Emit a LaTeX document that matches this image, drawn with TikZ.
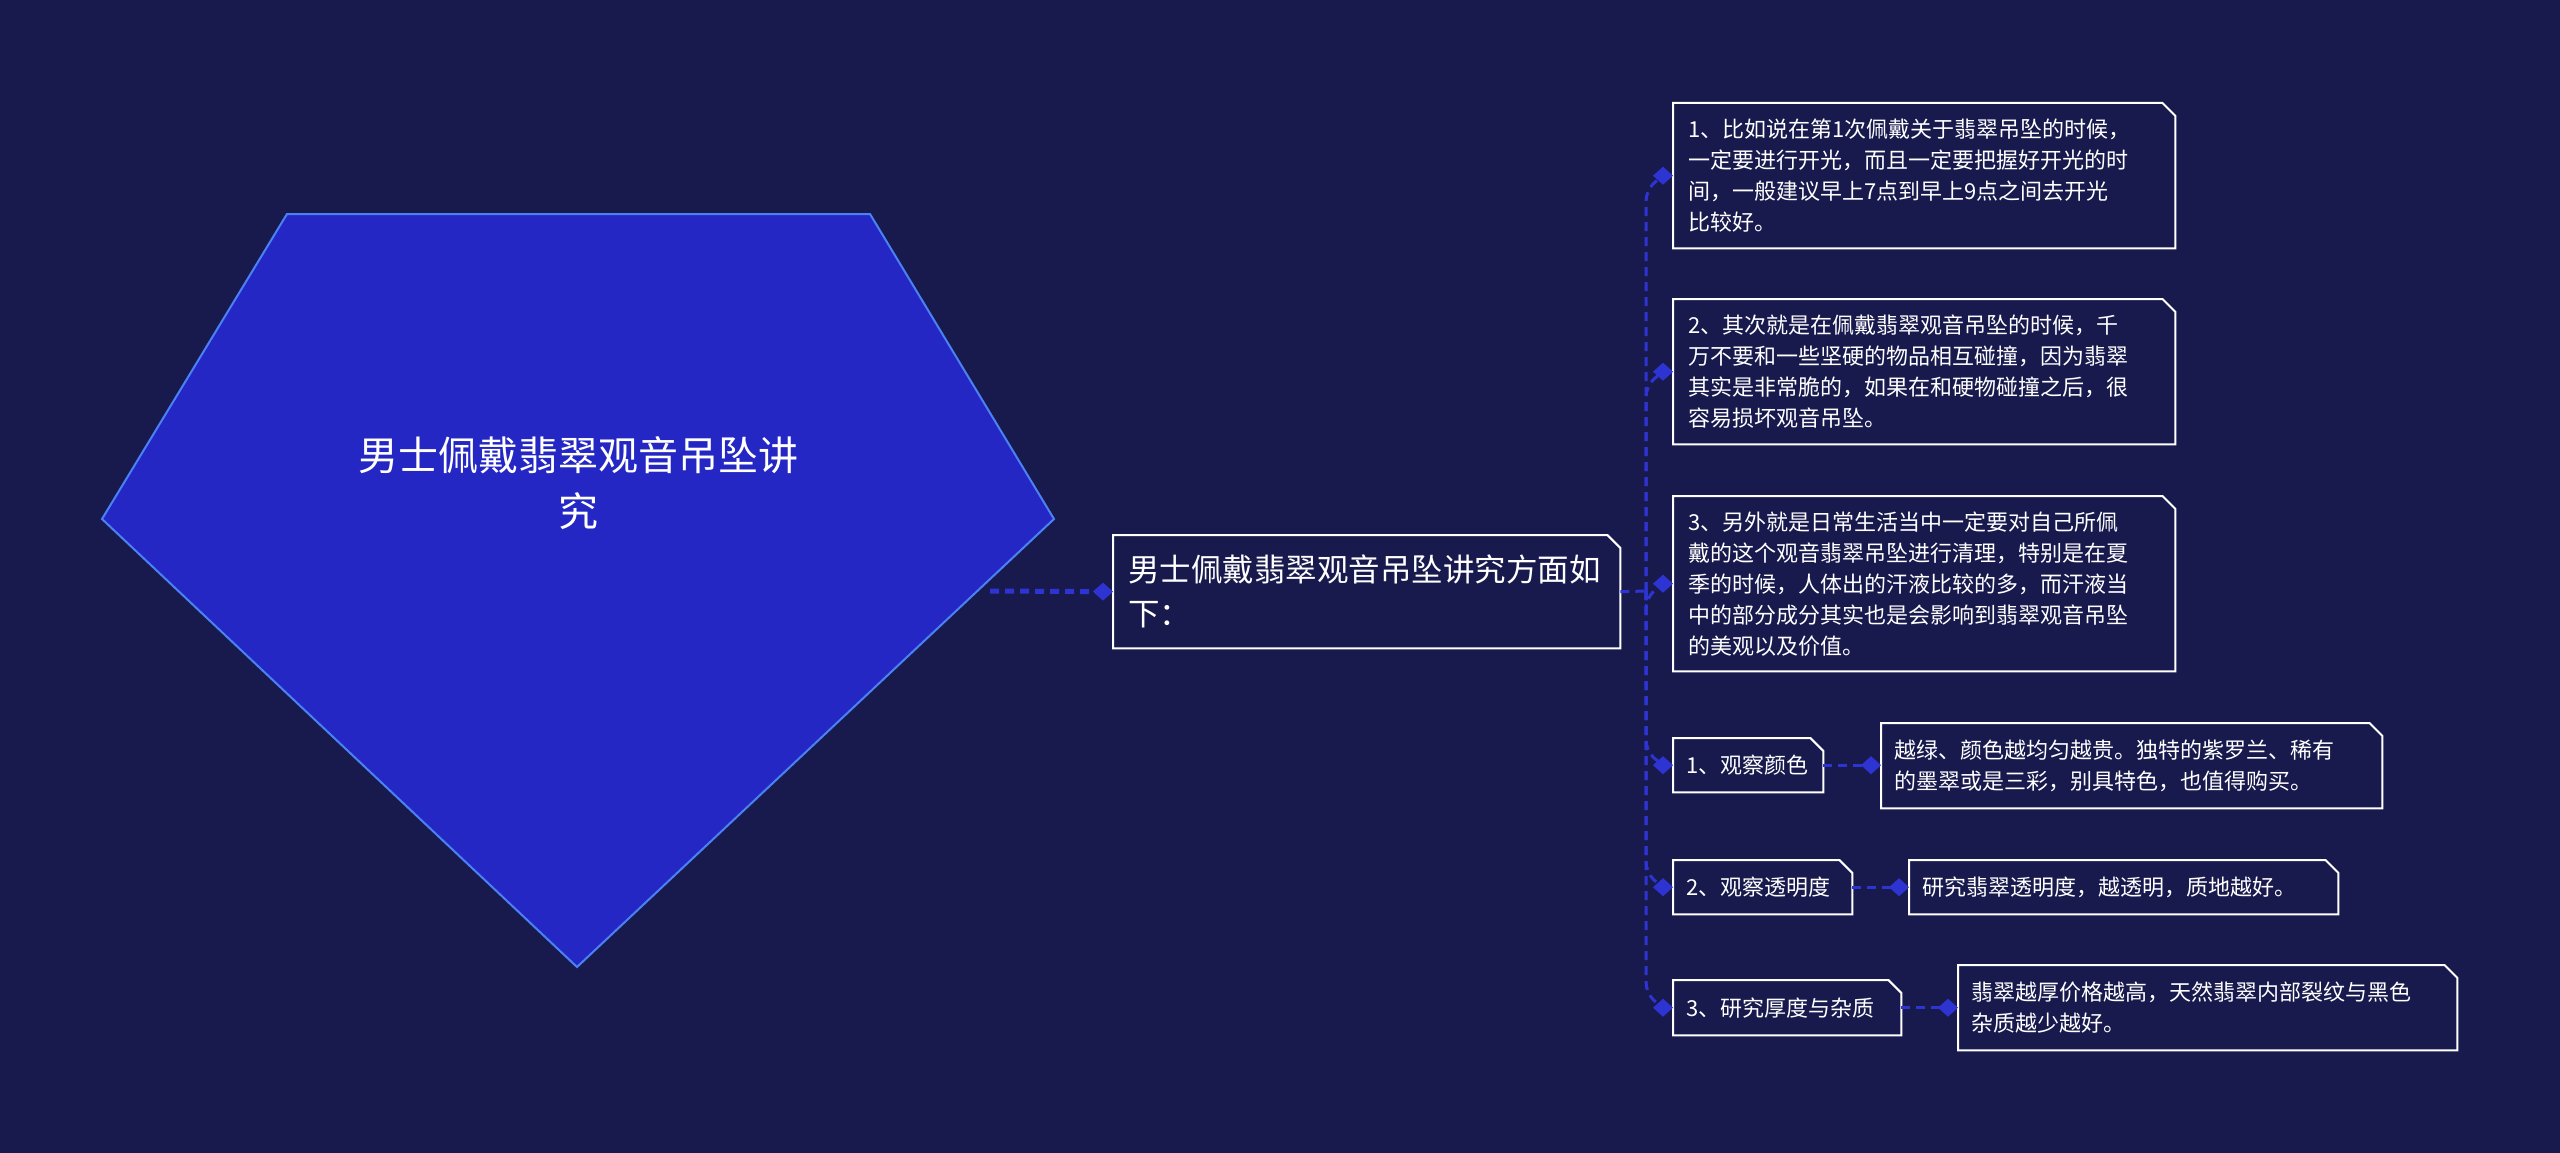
\documentclass[tikz,border=0pt]{standalone}
\usepackage{fontspec}
\setmainfont{Noto Sans CJK SC}
\usetikzlibrary{arrows.meta}
\definecolor{bg}{HTML}{181A4E}
\definecolor{pentfill}{HTML}{2427C4}
\definecolor{pentline}{HTML}{4A82F5}
\definecolor{conn}{HTML}{2E34D2}
\newcommand\chbox[1]{\draw[boxline] (#1.south west) -- (#1.north west) -- ([xshift=-13pt]#1.north east) -- ([yshift=-13pt]#1.north east) -- (#1.south east) -- cycle;}
\begin{document}
\begin{tikzpicture}[x=1pt,y=-1pt,
  boxline/.style={draw=white,line width=2pt,line join=miter},
  txt/.style={text=white,align=left,anchor=north west,inner xsep=15pt,inner ysep=0pt,font=\fontsize{22}{31}\selectfont},
  conn/.style={draw=conn,line width=3pt,dash pattern=on 9pt off 6pt},
  tip/.style={-{Diamond[length=20pt,width=18pt,fill=conn,line width=0pt]}},
]
\fill[bg] (0,0) rectangle (2560,1153);
\useasboundingbox (0,0) rectangle (2560,1153);
% central pentagon
\filldraw[fill=pentfill,draw=pentline,line width=2pt] (287,214) -- (870,214) -- (1054,519) -- (577,967) -- (102,519) -- cycle;
\node[text=white,align=center,font=\fontsize{40}{56}\selectfont] (title) at (578,483) {男士佩戴翡翠观音吊坠讲\\究};
\coordinate (pr) at (990,591);
% main node
\node[txt,text width=477pt,inner xsep=15pt,minimum height=113pt,font=\fontsize{31.5}{44}\selectfont] (main) at (1113,535) {男士佩戴翡翠观音吊坠讲究方面如\\下：};
\chbox{main}
\draw[draw=conn,line width=5pt,dash pattern=on 9pt off 6pt,tip] (pr) -- (main.west);
% right nodes
\node[txt,text width=472pt,minimum height=145pt] (n1) at (1673,103) {1、比如说在第1次佩戴关于翡翠吊坠的时候，\\一定要进行开光，而且一定要把握好开光的时\\间，一般建议早上7点到早上9点之间去开光\\比较好。};
\node[txt,text width=472pt,minimum height=145pt] (n2) at (1673,299) {2、其次就是在佩戴翡翠观音吊坠的时候，千\\万不要和一些坚硬的物品相互碰撞，因为翡翠\\其实是非常脆的，如果在和硬物碰撞之后，很\\容易损坏观音吊坠。};
\node[txt,text width=472pt,minimum height=175pt] (n3) at (1673,496) {3、另外就是日常生活当中一定要对自己所佩\\戴的这个观音翡翠吊坠进行清理，特别是在夏\\季的时候，人体出的汗液比较的多，而汗液当\\中的部分成分其实也是会影响到翡翠观音吊坠\\的美观以及价值。};
\node[txt,text width=124pt,minimum height=54pt,inner xsep=13pt] (n4) at (1673,738) {1、观察颜色};
\node[txt,text width=153pt,minimum height=54pt,inner xsep=13pt] (n5) at (1673,860) {2、观察透明度};
\node[txt,text width=202pt,minimum height=55pt,inner xsep=13pt] (n6) at (1673,980) {3、研究厚度与杂质};
\node[txt,text width=475pt,minimum height=85pt,inner xsep=13pt] (n4b) at (1881,723) {越绿、颜色越均匀越贵。独特的紫罗兰、稀有\\的墨翠或是三彩，别具特色，也值得购买。};
\node[txt,text width=403pt,minimum height=54pt,inner xsep=13pt] (n5b) at (1909,860) {研究翡翠透明度，越透明，质地越好。};
\node[txt,text width=473pt,minimum height=85pt,inner xsep=13pt] (n6b) at (1958,965) {翡翠越厚价格越高，天然翡翠内部裂纹与黑色\\杂质越少越好。};
\foreach \n in {n1,n2,n3,n4,n5,n6,n4b,n5b,n6b} {\chbox{\n}}
% trunk
\coordinate (t) at (1646,591);
\draw[conn] (main.east) -- (t);
\foreach \n in {n1,n2,n3,n4,n5,n6} {
  \draw[conn,tip,rounded corners=26pt] (t) |- (\n.west);
}
\draw[conn,tip] (n4.east) -- (n4b.west |- n4.east);
\draw[conn,tip] (n5.east) -- (n5b.west);
\draw[conn,tip] (n6.east) -- (n6b.west |- n6.east);
\end{tikzpicture}
\end{document}
